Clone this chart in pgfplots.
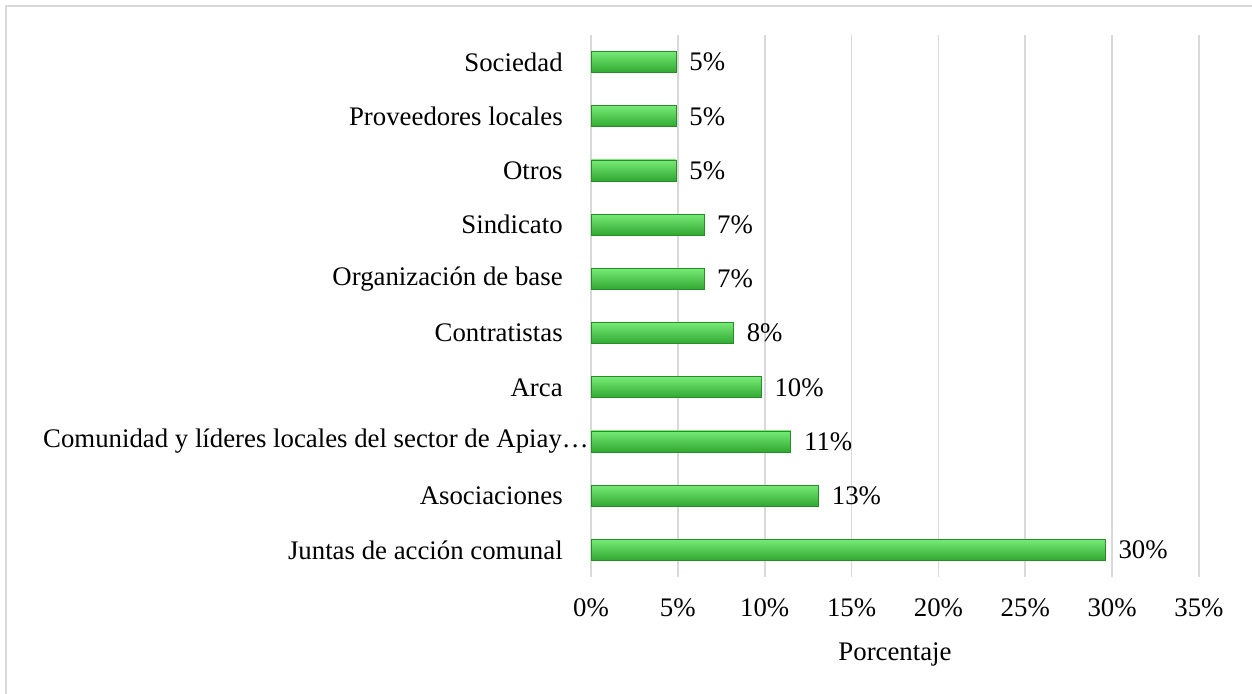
\documentclass[border=0pt]{standalone}
\usepackage{pgfplots}
\pgfplotsset{compat=1.18}
\usepackage{fontspec}
\setmainfont{Liberation Serif}
\definecolor{gridgray}{RGB}{217,217,217}
\definecolor{bartop}{RGB}{118,234,118}
\definecolor{barmid}{RGB}{62,206,62}
\definecolor{barbot}{RGB}{48,168,48}
\definecolor{baredge}{RGB}{40,140,40}

\newcommand\lblfont{\fontsize{13.4}{16}\selectfont}

\begin{document}
\lblfont
\begin{tikzpicture}
\path[use as bounding box] (0,0) rectangle (626pt,347pt);
% marco exterior (solo arriba e izquierda visibles)
\draw[gridgray, line width=1.2pt] (3pt,0pt) -- (3pt,344pt) -- (626pt,344pt);

\begin{axis}[
    at={(295.5pt,58.5pt)},
    anchor=south west,
    scale only axis,
    width=304pt,
    height=271pt,
    xbar,
    bar width=10.5pt,
    bar shift=0pt,
    xmin=0, xmax=35,
    ymin=-0.5, ymax=9.5,
    xtick={0,5,...,35},
    xticklabels={0\%,5\%,10\%,15\%,20\%,25\%,30\%,35\%},
    ytick={0,...,9},
    yticklabels={
        Juntas de acción comunal,
        Asociaciones,
        {Comunidad y líderes locales del sector de Apiay…\hspace*{-13pt}},
        Arca,
        Contratistas,
        Organización de base,
        Sindicato,
        Otros,
        Proveedores locales,
        Sociedad
    },
    axis line style={draw=none},
    major tick length=0pt,
    xmajorgrids,
    grid style={gridgray, line width=0.8pt},
    tick label style={font=\lblfont},
    yticklabel style={xshift=-9.5pt},
    xticklabel style={yshift=-6pt},
    xlabel={Porcentaje},
    xlabel style={font=\lblfont, yshift=-4pt},
    nodes near coords,
    point meta=explicit symbolic,
    every node near coord/.append style={
        font=\lblfont, black, anchor=west, xshift=2pt
    },
    barra/.style={
        draw=baredge, line width=0.4pt,
        top color=bartop, middle color=barmid, bottom color=barbot
    },
]
% una barra por \addplot para que cada una tenga su propio degradado
\addplot[barra] coordinates {(29.6,0) [30\%]};
\addplot[barra] coordinates {(13.1,1) [13\%]};
\addplot[barra] coordinates {(11.5,2) [11\%]};
\addplot[barra] coordinates {(9.8,3) [10\%]};
\addplot[barra] coordinates {(8.2,4) [8\%]};
\addplot[barra] coordinates {(6.5,5) [7\%]};
\addplot[barra] coordinates {(6.5,6) [7\%]};
\addplot[barra] coordinates {(4.9,7) [5\%]};
\addplot[barra] coordinates {(4.9,8) [5\%]};
\addplot[barra] coordinates {(4.9,9) [5\%]};
\end{axis}
\end{tikzpicture}
\end{document}
